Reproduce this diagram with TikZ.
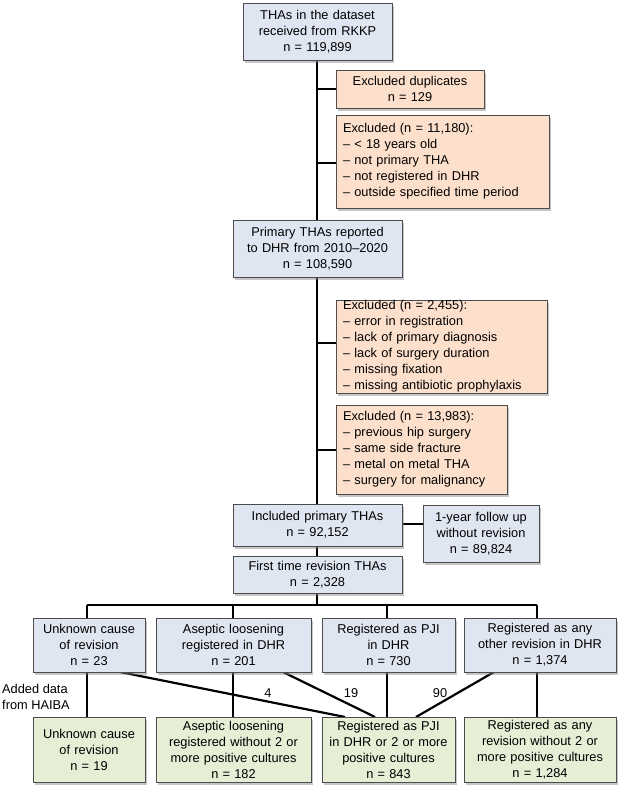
\documentclass[tikz,border=0pt]{standalone}
\usepackage{fontspec}
\setmainfont{Liberation Sans}
\usetikzlibrary{shadows}
\definecolor{bluef}{HTML}{DFE6F2}
\definecolor{salf}{HTML}{FDE0CC}
\definecolor{grnf}{HTML}{E6EED6}
\begin{document}
\begin{tikzpicture}[x=1pt,y=-1pt,
 box/.style={draw=black!70,line width=0.9pt,inner sep=0pt,font=\fontsize{12.8}{16}\selectfont,
   drop shadow={shadow xshift=2pt,shadow yshift=-2.5pt,opacity=0.45}},
 bb/.style={box,fill=bluef,align=center},
 sb/.style={box,fill=salf,align=left},
 sbc/.style={box,fill=salf,align=center},
 gb/.style={box,fill=grnf,align=center},
 ln/.style={line width=2.2pt},
 lbl/.style={font=\fontsize{12.8}{16}\selectfont,inner sep=0pt}]
\useasboundingbox (0,0) rectangle (625,801);
\def\bx#1#2#3#4#5#6#7{\node[#2,minimum width={#5-#3},minimum height={#6-#4},text width={#5-#3-14}] (#1) at ({(#3+#5)/2},{(#4+#6)/2}) {#7};}
% lines first
\coordinate (m1) at (317,60);
\coordinate (m2) at (317,504);
\coordinate (bj) at (317,605);
\coordinate (bl) at (87,605);
\coordinate (br) at (537,605);
\draw[ln] (m1) -- (m2);
\draw[ln] (317,89) -- (336,89);
\draw[ln] (317,163) -- (336,163);
\draw[ln] (317,343) -- (336,343);
\draw[ln] (317,450) -- (336,450);
\draw[ln] (317,546) -- (317,556);
\draw[ln] (402,524) -- (423,524);
\draw[ln] (317,593) -- (bj);
\draw[ln] (bl) -- (br);
\foreach \x in {87,233,387,537} \draw[ln] (\x,605) -- (\x,618);
\foreach \x in {87,233,387,537} \draw[ln] (\x,672) -- (\x,717);
\draw[ln] (120,672) -- (345,717);
\draw[ln] (283,672) -- (375,717);
\draw[ln] (494,672) -- (416,717);
% boxes
\bx{a}{bb}{243}{3}{392}{60}{THAs in the dataset\\received from RKKP\\n = 119,899}
\bx{d}{sbc}{336}{70}{484}{108}{Excluded duplicates\\n = 129}
\bx{e1}{sb}{336}{115}{549}{208}{Excluded (n = 11,180):\\– < 18 years old\\– not primary THA\\– not registered in DHR\\– outside specified time period}
\bx{p}{bb}{233}{220}{402}{277}{Primary THAs reported\\to DHR from 2010–2020\\n = 108,590}
\bx{e2}{sb}{336}{300}{547}{393}{Excluded (n = 2,455):\\– error in registration\\– lack of primary diagnosis\\– lack of surgery duration\\– missing fixation\\– missing antibiotic prophylaxis}
\bx{e3}{sb}{336}{405}{507}{494}{Excluded (n = 13,983):\\– previous hip surgery\\– same side fracture\\– metal on metal THA\\– surgery for malignancy}
\bx{inc}{bb}{233}{504}{402}{546}{Included primary THAs\\n = 92,152}
\bx{fu}{bb}{423}{505}{539}{562}{1-year follow up\\without revision\\n = 89,824}
\bx{ft}{bb}{233}{556}{402}{593}{First time revision THAs\\n = 2,328}
\bx{u1}{bb}{33}{618}{145}{672}{Unknown cause\\of revision\\n = 23}
\bx{a1}{bb}{156}{618}{311}{672}{Aseptic loosening\\registered in DHR\\n = 201}
\bx{p1}{bb}{322}{618}{455}{672}{Registered as PJI\\in DHR\\n = 730}
\bx{o1}{bb}{464}{618}{616}{672}{Registered as any\\other revision in DHR\\n = 1,374}
\bx{u2}{gb}{33}{717}{145}{782}{Unknown cause\\of revision\\n = 19}
\bx{a2}{gb}{156}{717}{311}{782}{Aseptic loosening\\registered without 2 or\\more positive cultures\\n = 182}
\bx{p2}{gb}{322}{717}{455}{782}{Registered as PJI\\in DHR or 2 or more\\positive cultures\\n = 843}
\bx{o2}{gb}{464}{717}{616}{782}{Registered as any\\revision without 2 or\\more positive cultures\\n = 1,284}
\node[lbl,align=left,anchor=west] (hb) at (2,697) {Added data\\from HAIBA};
\node[lbl] (l4) at (268,693) {4};
\node[lbl] (l19) at (351,693) {19};
\node[lbl] (l90) at (440,693) {90};
\end{tikzpicture}
\end{document}
